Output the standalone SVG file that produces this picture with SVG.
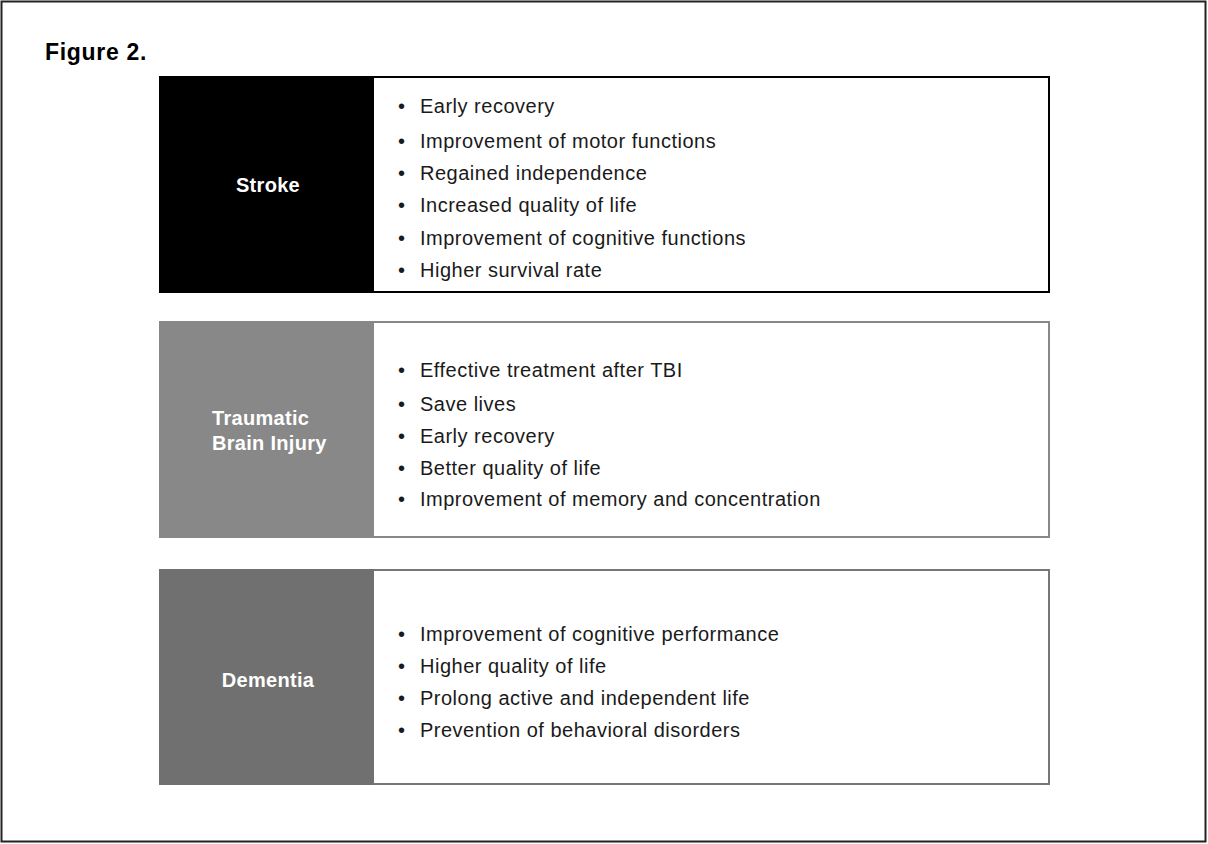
<svg xmlns="http://www.w3.org/2000/svg" width="1208" height="844" viewBox="0 0 1208 844">
<style>
.item{font-family:"Liberation Sans",Arial,sans-serif;font-size:20px;letter-spacing:0.5px;fill:#1a1a1a}
.lbl{font-family:"Liberation Sans",Arial,sans-serif;font-size:20px;letter-spacing:0.3px;font-weight:bold;fill:#fff}
.title{font-family:"Liberation Sans",Arial,sans-serif;font-size:23px;letter-spacing:0.7px;font-weight:bold;fill:#000}
</style>
<rect x="0" y="0" width="1208" height="844" fill="#fff"/>
<rect x="1.5" y="1.5" width="1204" height="840" fill="none" stroke="#222" stroke-width="2"/>
<text class="title" x="45" y="60">Figure 2.</text>
<g id="stroke">
<rect x="160" y="77" width="889" height="215" fill="#fff" stroke="#000" stroke-width="2"/>
<rect x="159" y="76" width="215" height="217" fill="#000"/>
<text class="lbl" x="268" y="192" text-anchor="middle">Stroke</text>
<g class="item">
<text x="398" y="113">•</text><text x="420" y="113">Early recovery</text>
<text x="398" y="148">•</text><text x="420" y="148">Improvement of motor functions</text>
<text x="398" y="180">•</text><text x="420" y="180">Regained independence</text>
<text x="398" y="212">•</text><text x="420" y="212">Increased quality of life</text>
<text x="398" y="245">•</text><text x="420" y="245">Improvement of cognitive functions</text>
<text x="398" y="277">•</text><text x="420" y="277">Higher survival rate</text>
</g>
</g>
<g id="tbi">
<rect x="160" y="322" width="889" height="215" fill="#fff" stroke="#888" stroke-width="2"/>
<rect x="159" y="321" width="215" height="217" fill="#888"/>
<text class="lbl" x="212" y="425">Traumatic</text>
<text class="lbl" x="212" y="450">Brain Injury</text>
<g class="item">
<text x="398" y="377">•</text><text x="420" y="377">Effective treatment after TBI</text>
<text x="398" y="411">•</text><text x="420" y="411">Save lives</text>
<text x="398" y="443">•</text><text x="420" y="443">Early recovery</text>
<text x="398" y="475">•</text><text x="420" y="475">Better quality of life</text>
<text x="398" y="506">•</text><text x="420" y="506">Improvement of memory and concentration</text>
</g>
</g>
<g id="dementia">
<rect x="160" y="570" width="889" height="214" fill="#fff" stroke="#777" stroke-width="2"/>
<rect x="159" y="569" width="215" height="216" fill="#707070"/>
<text class="lbl" x="268" y="687" text-anchor="middle">Dementia</text>
<g class="item">
<text x="398" y="641">•</text><text x="420" y="641">Improvement of cognitive performance</text>
<text x="398" y="673">•</text><text x="420" y="673">Higher quality of life</text>
<text x="398" y="705">•</text><text x="420" y="705">Prolong active and independent life</text>
<text x="398" y="737">•</text><text x="420" y="737">Prevention of behavioral disorders</text>
</g>
</g>
<g id="connectors"></g>
</svg>
